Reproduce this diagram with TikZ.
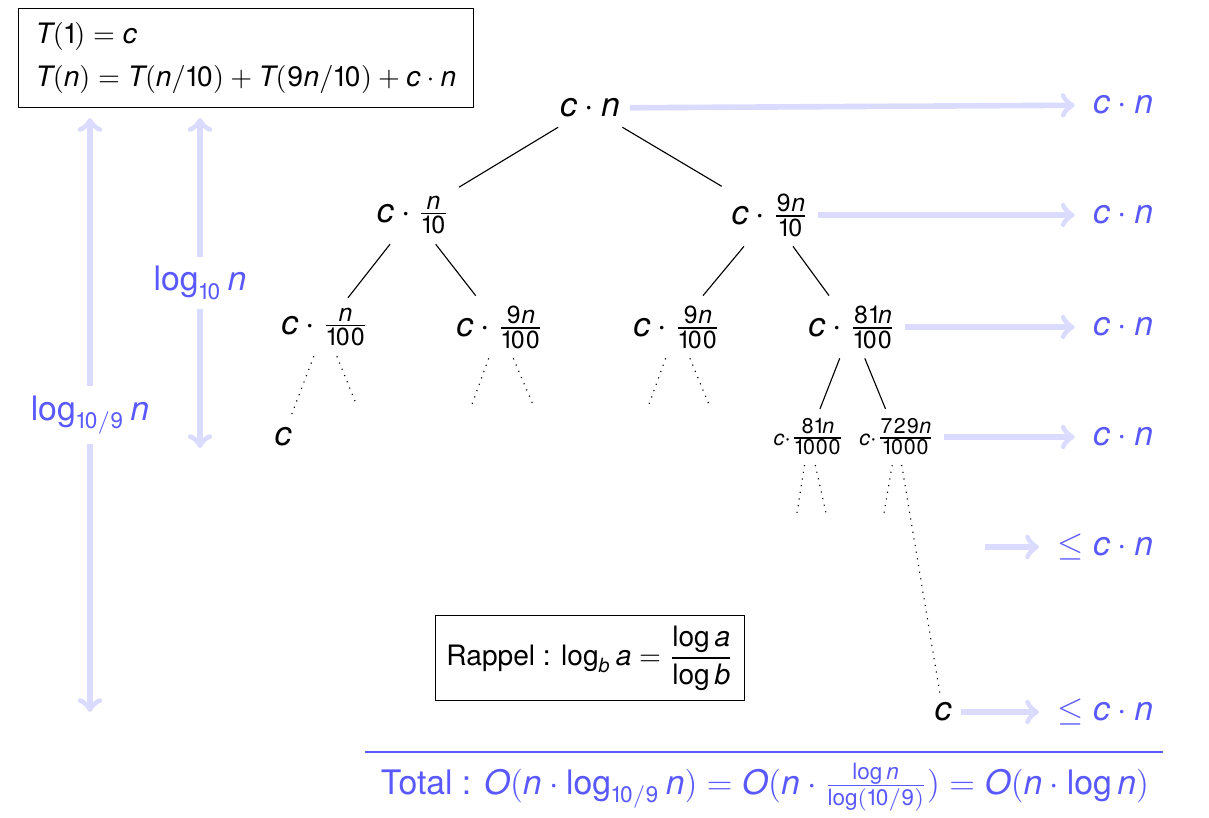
\documentclass[tikz,border=0pt]{standalone}
\usepackage{mathspec}
\setmainfont{TeX Gyre Heros}
\setmathsfont(Digits,Latin)[Numbers={Lining,Proportional}]{TeX Gyre Heros}
\setmathrm{TeX Gyre Heros}
\DeclareMathSizes{11.99}{11.99}{8.8}{6.5}
\DeclareMathSizes{10.01}{10.01}{7.6}{5.5}

\begin{document}
\begin{tikzpicture}[x=0.0125cm, y=-0.0125cm, >=to,
    noeud/.style={font=\fontsize{11.99}{14}\selectfont},
    petit/.style={font=\fontsize{10.01}{12}\selectfont},
    cout/.style={font=\large, text=blue!65, anchor=east},
    fleche/.style={->, line width=2pt, blue!14, shorten >=3pt},
    hauteur/.style={<->, line width=2pt, blue!14},
    etiquette/.style={font=\large, text=blue!65, fill=white}]
    \useasboundingbox (0,0) rectangle (1209,818);

    % la recurrence
    \node[draw, align=left, inner xsep=6pt, inner ysep=5pt] (rec) at (246,58)
        {$T(1)=c$\\[3pt]$T(n)=T(n/10)+T(9n/10)+c\cdot n$};

    % l'arbre
    \node[noeud] (r) at (590,108) {$c\cdot n$};
    \node[noeud] (a) at (413,215) {$c\cdot\frac{n}{10}$};
    \node[noeud] (b) at (770,215) {$c\cdot\frac{9n}{10}$};
    \node[noeud] (aa) at (325,327) {$c\cdot\frac{n}{100}$};
    \node[noeud] (ab) at (500,327) {$c\cdot\frac{9n}{100}$};
    \node[noeud] (ba) at (677,327) {$c\cdot\frac{9n}{100}$};
    \node[noeud] (bb) at (852,327) {$c\cdot\frac{81n}{100}$};
    \node[petit] (bba) at (809,437) {${\scriptstyle c\cdot}\frac{81n}{1000}$};
    \node[petit] (bbb) at (897,437) {${\scriptstyle c\cdot}\frac{729n}{1000}$};
    \node[noeud] (fa) at (283,437) {$c$};
    \node[noeud] (fb) at (943,712) {$c$};

    \draw (r) -- (a);
    \draw (r) -- (b);
    \draw (a) -- (aa);
    \draw (a) -- (ab);
    \draw (b) -- (ba);
    \draw (b) -- (bb);
    \draw (bb) -- (bba);
    \draw (bb) -- (bbb);

    % les pointilles
    \coordinate (p1) at (357,406);
    \coordinate (p2) at (471,407);
    \coordinate (p3) at (534,407);
    \coordinate (p4) at (648,407);
    \coordinate (p5) at (710,407);
    \coordinate (p6) at (797,513);
    \coordinate (p7) at (826,513);
    \coordinate (p8) at (884,513);
    \draw[dotted] (aa) -- (fa);
    \draw[dotted] (aa) -- (p1);
    \draw[dotted] (ab) -- (p2);
    \draw[dotted] (ab) -- (p3);
    \draw[dotted] (ba) -- (p4);
    \draw[dotted] (ba) -- (p5);
    \draw[dotted] (bba) -- (p6);
    \draw[dotted] (bba) -- (p7);
    \draw[dotted] (bbb) -- (p8);
    \draw[dotted] (bbb) -- (fb);

    % couts par niveau
    \node[cout] (c0) at (1163,105) {$c\cdot n$};
    \node[cout] (c1) at (1163,215) {$c\cdot n$};
    \node[cout] (c2) at (1163,327) {$c\cdot n$};
    \node[cout] (c3) at (1163,437) {$c\cdot n$};
    \node[cout] (c4) at (1163,547) {$\leq c\cdot n$};
    \node[cout] (c5) at (1163,712) {$\leq c\cdot n$};
    \coordinate (d4) at (985,547);
    \draw[fleche] (r) -- (c0);
    \draw[fleche] (b) -- (c1);
    \draw[fleche] (bb) -- (c2);
    \draw[fleche] (bbb) -- (c3);
    \draw[fleche] (d4) -- (c4);
    \draw[fleche] (fb) -- (c5);

    % hauteurs
    \coordinate (h1) at (90,118);
    \coordinate (h2) at (90,712);
    \coordinate (h3) at (200,118);
    \coordinate (h4) at (200,448);
    \draw[hauteur] (h1) -- (h2) node[etiquette, midway] (l1) {$\log_{10/9} n$};
    \draw[hauteur] (h3) -- (h4) node[etiquette, midway] (l2) {$\log_{10} n$};

    % rappel
    \node[draw, inner xsep=4pt, inner ysep=3.5pt] (rap) at (590,658)
        {Rappel : $\log_b a = {\displaystyle\frac{\log a}{\log b}}$};

    % total
    \coordinate (t1) at (365,752);
    \coordinate (t2) at (1163,752);
    \draw[blue!65, line width=1pt] (t1) -- (t2);
    \node[font=\large, text=blue!65] (tot) at (765,787)
        {Total : $O(n\cdot\log_{10/9} n) = O(n\cdot\frac{\log n}{\log(10/9)}) = O(n\cdot\log n)$};
\end{tikzpicture}
\end{document}
